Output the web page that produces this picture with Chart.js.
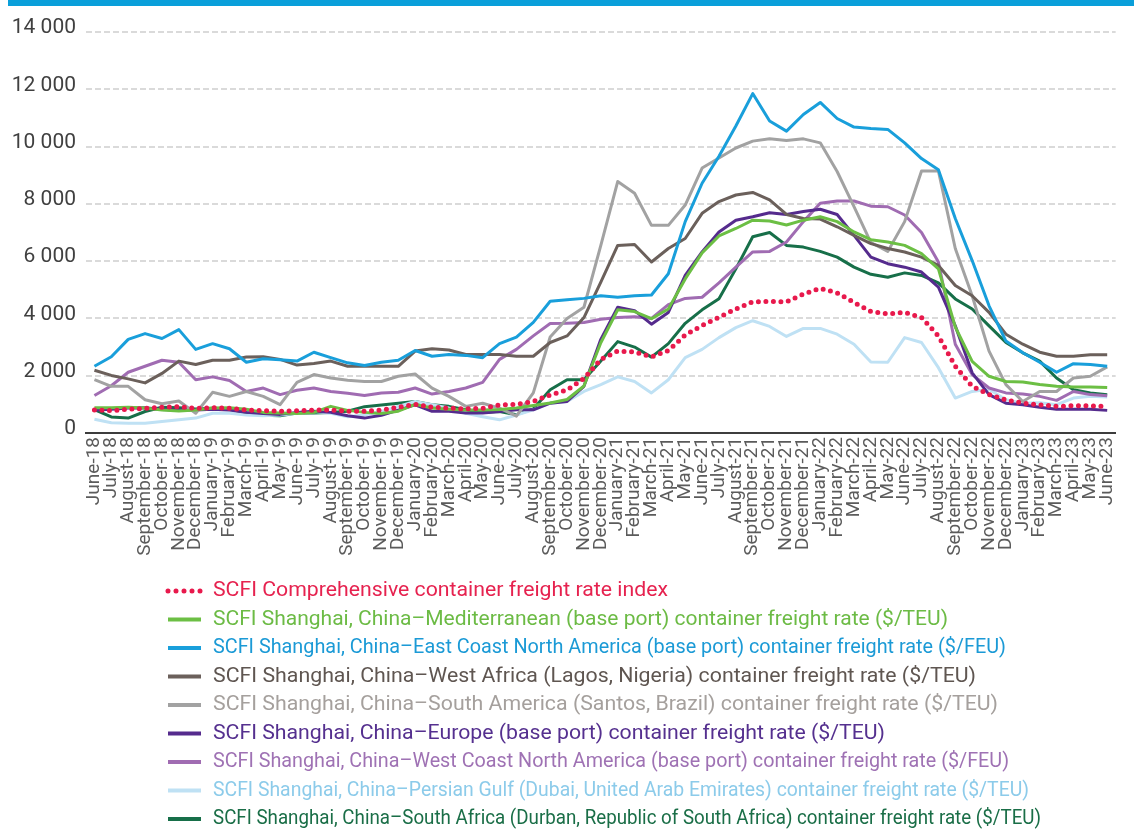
<!DOCTYPE html>
<html>
<head>
<meta charset="utf-8">
<title>SCFI container freight rates</title>
<script src="https://cdn.jsdelivr.net/npm/chart.js@4.4.0/dist/chart.umd.min.js"></script>
<style>
  html, body { margin: 0; padding: 0; background: #fff; }
  #wrap { position: relative; width: 1134px; height: 829px; }
  #topbar { position: absolute; left: 8px; top: 0; right: 0; height: 6px; background: #0a9fda; }
  canvas { display: block; }
</style>
</head>
<body>
<div id="wrap">
  <div id="topbar"></div>
  <canvas id="myChart" width="1134" height="829"></canvas>
</div>
<script>
/* globals Chart:false */

var months = [
  'June-18', 'July-18', 'August-18', 'September-18', 'October-18', 'November-18', 'December-18',
  'January-19', 'February-19', 'March-19', 'April-19', 'May-19', 'June-19', 'July-19', 'August-19',
  'September-19', 'October-19', 'November-19', 'December-19',
  'January-20', 'February-20', 'March-20', 'April-20', 'May-20', 'June-20', 'July-20', 'August-20',
  'September-20', 'October-20', 'November-20', 'December-20',
  'January-21', 'February-21', 'March-21', 'April-21', 'May-21', 'June-21', 'July-21', 'August-21',
  'September-21', 'October-21', 'November-21', 'December-21',
  'January-22', 'February-22', 'March-22', 'April-22', 'May-22', 'June-22', 'July-22', 'August-22',
  'September-22', 'October-22', 'November-22', 'December-22',
  'January-23', 'February-23', 'March-23', 'April-23', 'May-23', 'June-23'
];

var comprehensive = [800, 780, 830, 860, 900, 920, 860, 880, 860, 800, 780, 760, 780, 800, 800, 760, 760, 800, 900, 1000,
  900, 870, 840, 860, 980, 1000, 1100, 1330, 1500, 1900, 2570, 2860, 2830, 2660, 2880, 3420, 3750, 4040, 4330, 4580,
  4590, 4580, 4850, 5050, 4890, 4560, 4240, 4160, 4210, 4030, 3390, 2330, 1630, 1340, 1160, 1040, 985, 930, 950, 950, 930];

var mediterranean = [880, 880, 900, 870, 800, 770, 800, 870, 880, 830, 720, 700, 680, 720, 930, 790, 720, 680, 760, 1000,
  870, 830, 800, 800, 820, 870, 960, 1050, 1170, 1640, 3150, 4300, 4240, 3990, 4330, 5380, 6290, 6880, 7140, 7430,
  7400, 7260, 7430, 7550, 7380, 7020, 6750, 6670, 6550, 6260, 5730, 3700, 2500, 1980, 1800, 1780, 1690, 1630, 1610, 1610, 1590];

var eastCoastNA = [2330, 2660, 3270, 3470, 3300, 3610, 2920, 3120, 2940, 2470, 2590, 2560, 2510, 2820, 2630, 2450, 2360, 2470, 2540, 2880,
  2680, 2740, 2710, 2630, 3120, 3350, 3860, 4600, 4650, 4700, 4790, 4740, 4790, 4820, 5560, 7380, 8720, 9660, 10720, 11850,
  10890, 10540, 11120, 11540, 10980, 10680, 10630, 10600, 10130, 9580, 9190, 7490, 6020, 4440, 3210, 2800, 2470, 2120, 2420, 2390, 2330];

var westAfrica = [2190, 2010, 1890, 1750, 2080, 2510, 2390, 2540, 2540, 2650, 2660, 2570, 2370, 2430, 2510, 2330, 2330, 2330, 2330, 2860,
  2940, 2900, 2740, 2740, 2740, 2680, 2680, 3160, 3390, 4030, 5270, 6550, 6580, 5970, 6440, 6790, 7670, 8080, 8310, 8400,
  8140, 7630, 7490, 7470, 7200, 6900, 6610, 6440, 6320, 6140, 5850, 5150, 4790, 4210, 3450, 3100, 2820, 2680, 2680, 2730, 2730];

var southAmerica = [1860, 1630, 1630, 1160, 1020, 1120, 690, 1420, 1280, 1450, 1280, 990, 1770, 2040, 1920, 1840, 1800, 1800, 1980, 2060,
  1570, 1280, 930, 1040, 870, 590, 1400, 3350, 4000, 4390, 6550, 8780, 8370, 7250, 7250, 7960, 9250, 9600, 9950, 10190,
  10270, 10210, 10270, 10130, 9130, 7900, 6650, 6340, 7380, 9150, 9150, 6440, 4790, 2860, 1690, 1100, 1450, 1450, 1920, 1980, 2310];

var europe = [800, 830, 870, 880, 820, 800, 800, 830, 800, 720, 680, 650, 720, 760, 720, 600, 520, 620, 800, 980,
  760, 760, 700, 700, 750, 810, 810, 1040, 1100, 1630, 3270, 4390, 4270, 3800, 4210, 5500, 6320, 7020, 7430, 7550,
  7690, 7630, 7730, 7810, 7630, 6900, 6140, 5910, 5790, 5620, 5090, 3740, 2100, 1340, 1040, 990, 900, 830, 830, 830, 790];

var westCoastNA = [1310, 1650, 2120, 2330, 2540, 2470, 1860, 1960, 1830, 1450, 1570, 1340, 1490, 1570, 1450, 1390, 1310, 1400, 1420, 1570,
  1360, 1450, 1570, 1770, 2570, 2920, 3390, 3820, 3830, 3860, 3970, 4030, 4060, 4000, 4480, 4700, 4740, 5240, 5790, 6320,
  6340, 6670, 7380, 8020, 8100, 8100, 7920, 7900, 7610, 7000, 5970, 3100, 2040, 1570, 1400, 1360, 1280, 1140, 1450, 1340, 1300];

var persianGulf = [480, 360, 340, 340, 400, 460, 520, 690, 690, 630, 600, 630, 690, 750, 690, 570, 630, 750, 930, 1100,
  990, 870, 690, 570, 460, 630, 810, 1040, 1100, 1450, 1690, 1960, 1800, 1400, 1860, 2630, 2920, 3330, 3680, 3920,
  3720, 3370, 3650, 3650, 3450, 3100, 2480, 2470, 3330, 3160, 2280, 1220, 1450, 1530, 1160, 1040, 1060, 990, 1220, 1280, 1260];

var southAfrica = [820, 560, 520, 750, 900, 880, 840, 860, 840, 700, 620, 600, 700, 700, 720, 760, 920, 980, 1040, 1100,
  990, 930, 810, 720, 750, 640, 840, 1510, 1860, 1860, 2510, 3190, 3000, 2650, 3120, 3830, 4300, 4690, 5730, 6850,
  7000, 6550, 6490, 6340, 6140, 5790, 5540, 5440, 5590, 5500, 5240, 4680, 4330, 3740, 3160, 2800, 2510, 1920, 1510, 1400, 1340];

// how wide each legend row is set in the original
var legendTextWidths = [455, 735, 793, 763, 785, 672, 796, 816, 828];

function lineSet(label, data, color, textColor) {
  return {
    label: label,
    data: data,
    borderColor: color,
    textColor: textColor || color,
    borderWidth: 3,
    borderJoinStyle: 'round',
    pointRadius: 0,
    tension: 0,
    fill: false
  };
}

var dotted = lineSet('SCFI Comprehensive container freight rate index', comprehensive, '#e8194c', '#e6224f');
dotted.borderWidth = 5;
dotted.borderDash = [0, 7.5];
dotted.borderCapStyle = 'round';

var datasets = [
  dotted,
  lineSet('SCFI Shanghai, China\u2013Mediterranean (base port) container freight rate ($/TEU)', mediterranean, '#6cbf44', '#6cbb45'),
  lineSet('SCFI Shanghai, China\u2013East Coast North America (base port) container freight rate ($/FEU)', eastCoastNA, '#199fdb', '#1b9ad6'),
  lineSet('SCFI Shanghai, China\u2013West Africa (Lagos, Nigeria) container freight rate ($/TEU)', westAfrica, '#6b605b', '#5f5651'),
  lineSet('SCFI Shanghai, China\u2013South America (Santos, Brazil) container freight rate ($/TEU)', southAmerica, '#a2a2a2', '#a5a09d'),
  lineSet('SCFI Shanghai, China\u2013Europe (base port) container freight rate ($/TEU)', europe, '#552b8d', '#55308f'),
  lineSet('SCFI Shanghai, China\u2013West Coast North America (base port) container freight rate ($/FEU)', westCoastNA, '#a06cb2', '#9f72b4'),
  lineSet('SCFI Shanghai, China\u2013Persian Gulf (Dubai, United Arab Emirates) container freight rate ($/TEU)', persianGulf, '#bfe1f4', '#8ccbea'),
  lineSet('SCFI Shanghai, China\u2013South Africa (Durban, Republic of South Africa) container freight rate ($/TEU)', southAfrica, '#176f49', '#1a6e47')
];

// legend: one row per series, under the month labels
var lineLegend = {
  id: 'lineLegend',
  afterDraw: function (chart) {
    var ctx = chart.ctx;
    chart.data.datasets.forEach(function (ds, i) {
      var y = 591 + i * 28.5;
      ctx.save();
      ctx.strokeStyle = ds.borderColor;
      if (ds.borderDash) {
        ctx.lineWidth = 5;
        ctx.lineCap = 'round';
        ctx.setLineDash([0, 8]);
      } else {
        ctx.lineWidth = 4;
        ctx.lineCap = 'butt';
      }
      ctx.beginPath();
      ctx.moveTo(168, y);
      ctx.lineTo(201, y);
      ctx.stroke();
      ctx.setLineDash([]);
      ctx.fillStyle = ds.textColor;
      ctx.font = '21px Roboto';
      ctx.textBaseline = 'middle';
      ctx.textAlign = 'left';
      var w = ctx.measureText(ds.label).width;
      ctx.translate(213, y);
      ctx.scale(legendTextWidths[i] / w, 1);
      ctx.fillText(ds.label, 0, 0);
      ctx.restore();
    });
  }
};

var ctx = document.getElementById('myChart');
var myChart = new Chart(ctx, {
  type: 'line',
  data: {
    labels: months,
    datasets: datasets
  },
  plugins: [lineLegend],
  options: {
    responsive: false,
    animation: false,
    layout: {
      padding: { top: 32, right: 0, bottom: 0, left: 0 }
    },
    scales: {
      x: {
        offset: true,
        grid: { display: false, drawTicks: false },
        border: { display: true, color: '#3d3d3d', width: 2 },
        ticks: {
          autoSkip: false,
          minRotation: 90,
          maxRotation: 90,
          padding: 4,
          color: '#5b5b5b',
          font: { family: 'Roboto', size: 19 }
        },
        afterFit: function (scale) {
          scale.height = 396;
        }
      },
      y: {
        min: 0,
        max: 14000,
        grid: { color: '#dadada', lineWidth: 2, drawTicks: false },
        border: { display: false, dash: [6, 3] },
        ticks: {
          stepSize: 2000,
          padding: 10,
          labelOffset: -4,
          color: '#404040',
          font: { family: 'Roboto', size: 21 },
          callback: function (val) {
            return val.toString().replace(/\B(?=(\d{3})+(?!\d))/g, ' ');
          }
        },
        afterFit: function (scale) {
          scale.width = 86;
        }
      }
    },
    plugins: {
      legend: { display: false },
      tooltip: { enabled: false }
    }
  }
});
</script>
</body>
</html>
